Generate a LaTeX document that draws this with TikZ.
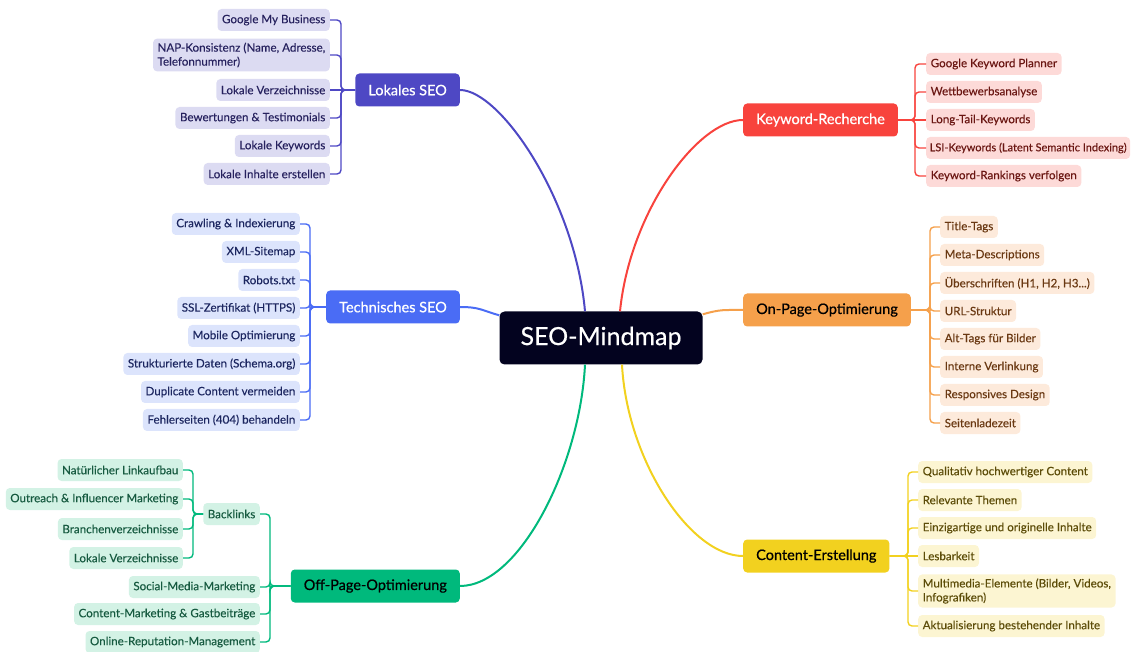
\documentclass[tikz,border=0pt]{standalone}
\usepackage{fontspec}
\setmainfont{Lato}
\usetikzlibrary{calc}
\tikzset{>=latex}

\definecolor{rootc}{HTML}{03031F}
\definecolor{lokc}{HTML}{4E48C4}
\definecolor{lokbg}{HTML}{DCDBF2}
\definecolor{lokfg}{HTML}{26215E}
\definecolor{techc}{HTML}{4A6CF5}
\definecolor{techbg}{HTML}{DCE4FC}
\definecolor{techfg}{HTML}{1C2660}
\definecolor{offc}{HTML}{00B97C}
\definecolor{offbg}{HTML}{D3F2E5}
\definecolor{offfg}{HTML}{165A40}
\definecolor{kwc}{HTML}{F8433D}
\definecolor{kwbg}{HTML}{FDDAD8}
\definecolor{kwfg}{HTML}{6A1612}
\definecolor{onc}{HTML}{F5A04B}
\definecolor{onbg}{HTML}{FDEADB}
\definecolor{onfg}{HTML}{6A3812}
\definecolor{conc}{HTML}{F2D11F}
\definecolor{conbg}{HTML}{FCF5D2}
\definecolor{confg}{HTML}{5C4C08}

\begin{document}
\begin{tikzpicture}[x=1pt,y=-1pt]
	\tikzstyle{root} = [rectangle, rounded corners=5pt, fill=rootc, text=white, minimum width=203pt, minimum height=53pt, font=\fontsize{25}{30}\selectfont\addfontfeatures{FakeBold=0.4}]
	\tikzstyle{topic} = [rectangle, rounded corners=4pt, minimum height=33pt, inner xsep=13pt, font=\fontsize{14.5}{17}\selectfont\addfontfeatures{FakeBold=0.7}]
	\tikzstyle{leaf} = [rectangle, rounded corners=4pt, minimum height=22pt, inner xsep=4.5pt, inner ysep=4pt, align=left, font=\fontsize{11.6}{14}\selectfont\addfontfeatures{FakeBold=0.2}]
	\tikzstyle{curve} = [line width=2pt]
	\tikzstyle{twig} = [line width=1.4pt, rounded corners=4pt]

	\useasboundingbox (0,0) rectangle (1136,652);

%----------Mitte------------------------------
	\node[root] (seo) at (601,338) {SEO-Mindmap};

%----------Lokales SEO------------------------------
	\node[topic, fill=lokc, text=white, anchor=east] (lok) at (460,90) {Lokales SEO};
	\coordinate (lokj) at (341,90);

	\tikzstyle{lokleaf} = [leaf, fill=lokbg, text=lokfg, anchor=east]
	\node[lokleaf] (lok1) at (330,20) {Google My Business};
	\node[lokleaf] (lok2) at (330,55) {NAP-Konsistenz (Name, Adresse,\\Telefonnummer)};
	\node[lokleaf] (lok3) at (330,90) {Lokale Verzeichnisse};
	\node[lokleaf] (lok4) at (330,118) {Bewertungen \& Testimonials};
	\node[lokleaf] (lok5) at (330,146) {Lokale Keywords};
	\node[lokleaf] (lok6) at (330,174) {Lokale Inhalte erstellen};

	\draw[twig, lokc] (lok.west) -- (lokj) |- (lok1.east);
	\draw[twig, lokc] (lok.west) -- (lokj) |- (lok2.east);
	\draw[twig, lokc] (lok.west) -- (lok3.east);
	\draw[twig, lokc] (lok.west) -- (lokj) |- (lok4.east);
	\draw[twig, lokc] (lok.west) -- (lokj) |- (lok5.east);
	\draw[twig, lokc] (lok.west) -- (lokj) |- (lok6.east);

	\draw[curve, lokc] ($(seo.north)+(-16,0)$) .. controls +(-10,-112) and +(40,0) .. (lok.east);

%----------Technisches SEO------------------------------
	\node[topic, fill=techc, text=white, anchor=east] (tech) at (460,307) {Technisches SEO};
	\coordinate (techj) at (310,307);

	\tikzstyle{techleaf} = [leaf, fill=techbg, text=techfg, anchor=east]
	\node[techleaf] (tech1) at (300,224) {Crawling \& Indexierung};
	\node[techleaf] (tech2) at (300,252) {XML-Sitemap};
	\node[techleaf] (tech3) at (300,280) {Robots.txt};
	\node[techleaf] (tech4) at (300,308) {SSL-Zertifikat (HTTPS)};
	\node[techleaf] (tech5) at (300,336) {Mobile Optimierung};
	\node[techleaf] (tech6) at (300,364) {Strukturierte Daten (Schema.org)};
	\node[techleaf] (tech7) at (300,392) {Duplicate Content vermeiden};
	\node[techleaf] (tech8) at (300,420) {Fehlerseiten (404) behandeln};

	\draw[twig, techc] (tech.west) -- (techj) |- (tech1.east);
	\draw[twig, techc] (tech.west) -- (techj) |- (tech2.east);
	\draw[twig, techc] (tech.west) -- (techj) |- (tech3.east);
	\draw[twig, techc] (tech.west) -- (techj) |- (tech4.east);
	\draw[twig, techc] (tech.west) -- (techj) |- (tech5.east);
	\draw[twig, techc] (tech.west) -- (techj) |- (tech6.east);
	\draw[twig, techc] (tech.west) -- (techj) |- (tech7.east);
	\draw[twig, techc] (tech.west) -- (techj) |- (tech8.east);

	\draw[curve, techc] ($(seo.north west)+(0,4)$) .. controls +(-18,-5) and +(20,0) .. (tech.east);

%----------Off-Page-Optimierung------------------------------
	\node[topic, fill=offc, text=black, anchor=east] (off) at (460,586) {Off-Page-Optimierung};
	\coordinate (offj) at (270,586);

	\tikzstyle{offleaf} = [leaf, fill=offbg, text=offfg, anchor=east]
	\node[offleaf] (bl) at (260,514) {Backlinks};
	\node[offleaf] (off2) at (260,587) {Social-Media-Marketing};
	\node[offleaf] (off3) at (260,614) {Content-Marketing \& Gastbeiträge};
	\node[offleaf] (off4) at (260,642) {Online-Reputation-Management};

	\draw[twig, offc] (off.west) -- (offj) |- (bl.east);
	\draw[twig, offc] (off.west) -- (offj) |- (off2.east);
	\draw[twig, offc] (off.west) -- (offj) |- (off3.east);
	\draw[twig, offc] (off.west) -- (offj) |- (off4.east);

	% Backlinks
	\coordinate (blj) at (193,514);
	\node[offleaf] (bl1) at (183,470) {Natürlicher Linkaufbau};
	\node[offleaf] (bl2) at (183,499) {Outreach \& Influencer Marketing};
	\node[offleaf] (bl3) at (183,529) {Branchenverzeichnisse};
	\node[offleaf] (bl4) at (183,558) {Lokale Verzeichnisse};

	\draw[twig, offc] (bl.west) -- (blj) |- (bl1.east);
	\draw[twig, offc] (bl.west) -- (blj) |- (bl2.east);
	\draw[twig, offc] (bl.west) -- (blj) |- (bl3.east);
	\draw[twig, offc] (bl.west) -- (blj) |- (bl4.east);

	\draw[curve, offc] ($(seo.south)+(-16,0)$) .. controls +(-5,100) and +(60,0) .. (off.east);

%----------Keyword-Recherche------------------------------
	\node[topic, fill=kwc, text=white, anchor=west] (kw) at (743,120) {Keyword-Recherche};
	\coordinate (kwj) at (915,120);

	\tikzstyle{kwleaf} = [leaf, fill=kwbg, text=kwfg, anchor=west]
	\node[kwleaf] (kw1) at (926,64) {Google Keyword Planner};
	\node[kwleaf] (kw2) at (926,92) {Wettbewerbsanalyse};
	\node[kwleaf] (kw3) at (926,120) {Long-Tail-Keywords};
	\node[kwleaf, inner xsep=3.5pt, font=\fontsize{11}{14}\selectfont\addfontfeatures{FakeBold=0.2}] (kw4) at (926,148) {LSI-Keywords (Latent Semantic Indexing)};
	\node[kwleaf] (kw5) at (926,176) {Keyword-Rankings verfolgen};

	\draw[twig, kwc] (kw.east) -- (kwj) |- (kw1.west);
	\draw[twig, kwc] (kw.east) -- (kwj) |- (kw2.west);
	\draw[twig, kwc] (kw.east) -- (kw3.west);
	\draw[twig, kwc] (kw.east) -- (kwj) |- (kw4.west);
	\draw[twig, kwc] (kw.east) -- (kwj) |- (kw5.west);

	\draw[curve, kwc] ($(seo.north)+(19,0)$) .. controls +(10,-100) and +(-45,0) .. (kw.west);

%----------On-Page-Optimierung------------------------------
	\node[topic, fill=onc, text=black, anchor=west] (on) at (743,310) {On-Page-Optimierung};
	\coordinate (onj) at (930,310);

	\tikzstyle{onleaf} = [leaf, fill=onbg, text=onfg, anchor=west]
	\node[onleaf] (on1) at (940,227) {Title-Tags};
	\node[onleaf] (on2) at (940,255) {Meta-Descriptions};
	\node[onleaf] (on3) at (940,283) {Überschriften (H1, H2, H3...)};
	\node[onleaf] (on4) at (940,311) {URL-Struktur};
	\node[onleaf] (on5) at (940,339) {Alt-Tags für Bilder};
	\node[onleaf] (on6) at (940,367) {Interne Verlinkung};
	\node[onleaf] (on7) at (940,395) {Responsives Design};
	\node[onleaf] (on8) at (940,423) {Seitenladezeit};

	\draw[twig, onc] (on.east) -- (onj) |- (on1.west);
	\draw[twig, onc] (on.east) -- (onj) |- (on2.west);
	\draw[twig, onc] (on.east) -- (onj) |- (on3.west);
	\draw[twig, onc] (on.east) -- (onj) |- (on4.west);
	\draw[twig, onc] (on.east) -- (onj) |- (on5.west);
	\draw[twig, onc] (on.east) -- (onj) |- (on6.west);
	\draw[twig, onc] (on.east) -- (onj) |- (on7.west);
	\draw[twig, onc] (on.east) -- (onj) |- (on8.west);

	\draw[curve, onc] ($(seo.north east)+(0,3)$) .. controls +(18,-5) and +(-20,0) .. (on.west);

%----------Content-Erstellung------------------------------
	\node[topic, fill=conc, text=black, anchor=west] (con) at (743,556) {Content-Erstellung};
	\coordinate (conj) at (908,556);

	\tikzstyle{conleaf} = [leaf, fill=conbg, text=confg, anchor=west]
	\node[conleaf] (con1) at (918,472) {Qualitativ hochwertiger Content};
	\node[conleaf] (con2) at (918,500) {Relevante Themen};
	\node[conleaf] (con3) at (918,528) {Einzigartige und originelle Inhalte};
	\node[conleaf] (con4) at (918,556) {Lesbarkeit};
	\node[conleaf] (con5) at (918,591) {Multimedia-Elemente (Bilder, Videos,\\Infografiken)};
	\node[conleaf] (con6) at (918,626) {Aktualisierung bestehender Inhalte};

	\draw[twig, conc] (con.east) -- (conj) |- (con1.west);
	\draw[twig, conc] (con.east) -- (conj) |- (con2.west);
	\draw[twig, conc] (con.east) -- (conj) |- (con3.west);
	\draw[twig, conc] (con.east) -- (con4.west);
	\draw[twig, conc] (con.east) -- (conj) |- (con5.west);
	\draw[twig, conc] (con.east) -- (conj) |- (con6.west);

	\draw[curve, conc] ($(seo.south)+(21,0)$) .. controls +(5,95) and +(-53,0) .. (con.west);
\end{tikzpicture}
\end{document}
